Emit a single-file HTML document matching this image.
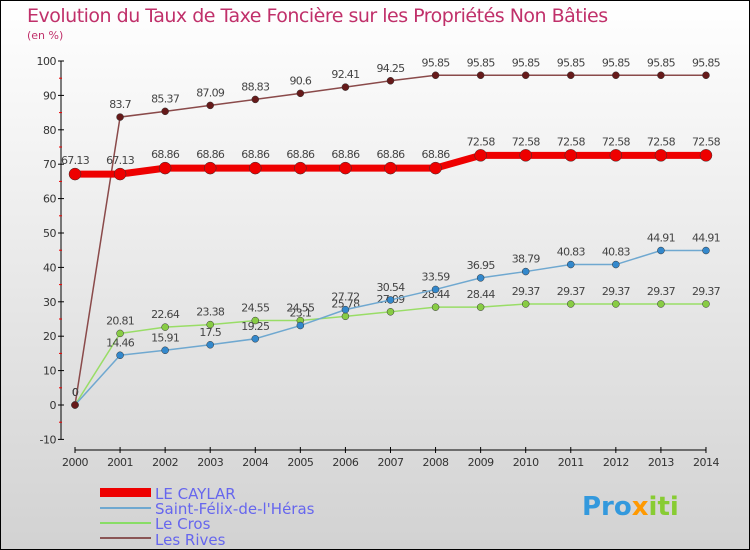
<!DOCTYPE html>
<html><head><meta charset="utf-8"><style>
body{margin:0;}
#wrap{width:750px;height:550px;position:relative;overflow:hidden;font-family:"DejaVu Sans","Liberation Sans",sans-serif;}
svg text{font-family:"DejaVu Sans","Liberation Sans",sans-serif;}
</style></head><body>
<div id="wrap">
<svg id="chart" width="750" height="550" xmlns="http://www.w3.org/2000/svg">
<defs><linearGradient id="bg" x1="0" y1="0" x2="0" y2="1"><stop offset="0" stop-color="#ffffff"/><stop offset="1" stop-color="#d2d2d2"/></linearGradient></defs>
<rect x="0.5" y="0.5" width="749" height="549" fill="url(#bg)" stroke="#000"/>
<text x="27" y="22" font-size="19" fill="#c0306a" letter-spacing="-0.5">Evolution du Taux de Taxe Foncière sur les Propriétés Non Bâties</text>
<text x="27" y="39" font-size="11" fill="#c0306a">(en %)</text>
<g id="axes"></g>
<g id="series"></g>
<g id="legend">
<rect x="100" y="488" width="51" height="9" fill="#ee0000"/>
<text x="155" y="499" font-size="15" fill="#6666ee">LE CAYLAR</text>
<line x1="100" y1="508" x2="151" y2="508" stroke="#6fa8d0" stroke-width="2"/>
<text x="155" y="514" font-size="15" fill="#6666ee">Saint-Félix-de-l'Héras</text>
<line x1="100" y1="523" x2="151" y2="523" stroke="#88dd66" stroke-width="2"/>
<text x="155" y="529" font-size="15" fill="#6666ee">Le Cros</text>
<line x1="100" y1="538" x2="151" y2="538" stroke="#8a5555" stroke-width="2"/>
<text x="155" y="545" font-size="15" fill="#6666ee">Les Rives</text>
</g>
<g>
<text x="582" y="515" font-size="26" font-weight="bold" fill="#3399dd">Pro<tspan fill="#ff9900">x</tspan><tspan fill="#88cc33">iti</tspan></text>
</g>
</svg>
</div>
<script>
const years=["2000","2001","2002","2003","2004","2005","2006","2007","2008","2009","2010","2011","2012","2013","2014"];
const yTicks=[-10,0,10,20,30,40,50,60,70,80,90,100];
const caylar=[67.13,67.13,68.86,68.86,68.86,68.86,68.86,68.86,68.86,72.58,72.58,72.58,72.58,72.58,72.58];
const saintFelix=[0,14.46,15.91,17.5,19.25,23.1,27.72,30.54,33.59,36.95,38.79,40.83,40.83,44.91,44.91];
const leCros=[0,20.81,22.64,23.38,24.55,24.55,25.78,27.09,28.44,28.44,29.37,29.37,29.37,29.37,29.37];
const lesRives=[0,83.7,85.37,87.09,88.83,90.6,92.41,94.25,95.85,95.85,95.85,95.85,95.85,95.85,95.85];
const NS="http://www.w3.org/2000/svg";
function X(i){return 75+45.07*i;}
function Y(v){return 405-v*3.44;}
function mk(tag,attrs,parent){const e=document.createElementNS(NS,tag);for(const k in attrs)e.setAttribute(k,attrs[k]);parent.appendChild(e);return e;}
const axes=document.getElementById('axes');
let ya=mk('line',{x1:61,y1:Y(100),x2:61,y2:Y(-10),stroke:'#000','stroke-width':1},axes);


yTicks.forEach(v=>{
 let t=mk('line',{x1:58,y1:Y(v),x2:64,y2:Y(v),stroke:'#000'},axes);
 
 
 if(v<100){let m=mk('line',{x1:59,y1:Y(v+5),x2:62,y2:Y(v+5),stroke:'#ee0000'},axes);
 
 }
 let l=mk('text',{x:56,y:Y(v)+4,'font-size':11,'text-anchor':'end',fill:'#333','letter-spacing':'-0.5'},axes);
 l.textContent=v;
 
 
});
let xa=mk('line',{x1:75,y1:450,x2:X(14),y2:450,stroke:'#000'},axes);


years.forEach((y,i)=>{
 let t=mk('line',{x1:X(i),y1:447,x2:X(i),y2:453,stroke:'#000'},axes);
 
 
 let l=mk('text',{x:X(i),y:466,'font-size':11,'text-anchor':'middle',fill:'#333','letter-spacing':'-0.5'},axes);
 l.textContent=y;
 
 
});
const ser=document.getElementById('series');
function draw(vals,name,col,dot,lw,r,labelOff,labels){
 const g=mk('g',{},ser);
 
 
 let p=mk('polyline',{points:vals.map((v,i)=>X(i)+','+Y(v)).join(' '),fill:'none',stroke:col,'stroke-width':lw},g);
 
 
 vals.forEach((v,i)=>{
  let c=mk('circle',{cx:X(i),cy:Y(v),r:r,fill:dot,stroke:'#333','stroke-width':0.5},g);
  
  
  if(labels){let t=mk('text',{x:X(i),y:Y(v)+labelOff,'font-size':11,'text-anchor':'middle',fill:'#444','letter-spacing':'-0.7'},g);
  t.textContent=(i==0&&v==0)?'0':String(v);
  
  }
 });
}
draw(leCros,'le-cros','#99dd66','#88cc44',1.5,3.5,-9,true);
draw(saintFelix,'saint-felix','#6fa8d0','#3388cc',1.5,3.5,-9,true);
draw(lesRives,'les-rives','#8a4a4a','#661a1a',1.5,3.5,-9,true);
draw(caylar,'le-caylar','#ee0000','#ee0000',7,6,-10,true);
</script>
</body></html>
